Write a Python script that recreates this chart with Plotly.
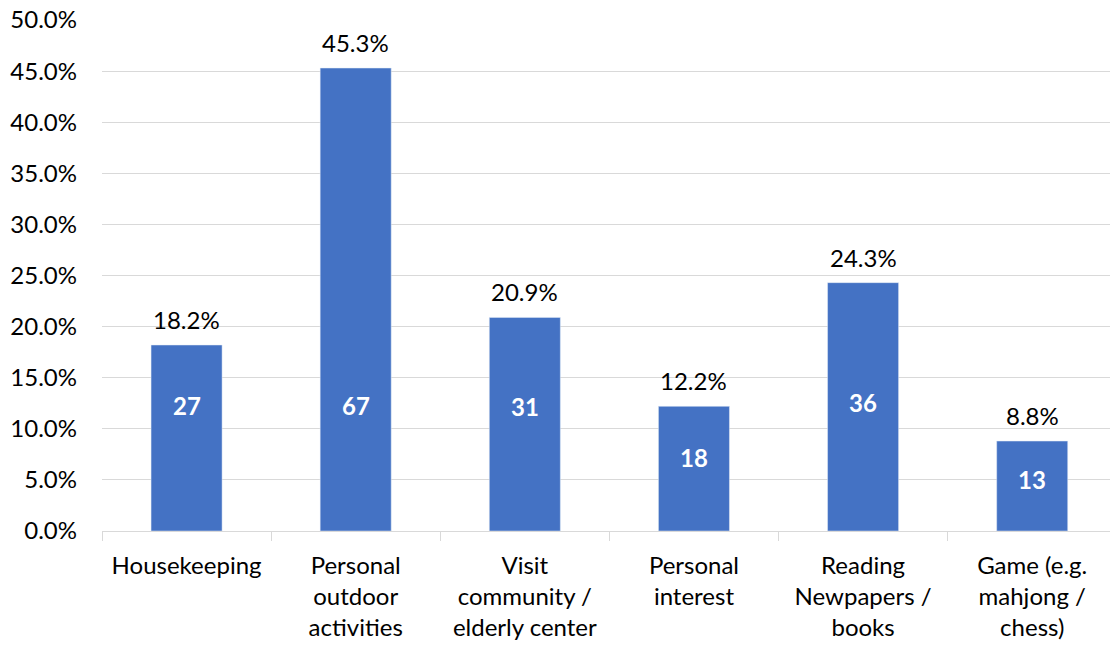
import plotly.graph_objects as go

categories = ["Housekeeping", "Personal<br>outdoor<br>activities", "Visit<br>community /<br>elderly center",
              "Personal<br>interest", "Reading<br>Newpapers /<br>books", "Game (e.g.<br>mahjong /<br>chess)"]
percentages = [18.2, 45.3, 20.9, 12.2, 24.3, 8.8]
counts = [27, 67, 31, 18, 36, 13]
y_ticks = [0, 5, 10, 15, 20, 25, 30, 35, 40, 45, 50]

# vertical placement of the white count labels (styling)
count_label_y = [12.3, 12.3, 12.2, 7.2, 12.6, 5.0]

FONT = "Lato"
SIZE = 24
fig = go.Figure()
fig.add_trace(go.Bar(
    x=categories, y=percentages,
    marker_color="#4472C4",
    cliponaxis=False,
))
for c, v in zip(categories, percentages):
    fig.add_annotation(x=c, y=v, text=f"{v:.1f}%", showarrow=False, yanchor="bottom", yshift=9,
                       font=dict(family=FONT, size=SIZE, color="#000000"))
for c, n, yy in zip(categories, counts, count_label_y):
    fig.add_annotation(x=c, y=yy, text=f"<b>{n}</b>", showarrow=False,
                       font=dict(family=FONT, size=SIZE, color="#FFFFFF"))

fig.update_layout(
    width=1110, height=645,
    margin=dict(l=102, r=0, t=20, b=114),
    plot_bgcolor="#FFFFFF", paper_bgcolor="#FFFFFF",
    bargap=0.58, showlegend=False,
    font=dict(family=FONT, size=SIZE, color="#000000"),
)
fig.update_yaxes(range=[0, 50], tickvals=y_ticks, ticktext=[f"{v:.1f}%" for v in y_ticks],
                 showgrid=True, gridcolor="#D9D9D9", gridwidth=1.3, zeroline=False,
                 showline=False, ticklabelstandoff=24,
                 tickfont=dict(family=FONT, size=SIZE, color="#000000"))
fig.update_xaxes(range=[-0.5, 5.46], showline=True, linecolor="#D9D9D9", linewidth=1.3,
                 ticks="outside", tickson="boundaries", ticklen=9, tickcolor="#D9D9D9", tickwidth=1.3,
                 ticklabelstandoff=13,
                 tickfont=dict(family=FONT, size=SIZE, color="#000000"), tickangle=0)
fig.write_html("out.html")
